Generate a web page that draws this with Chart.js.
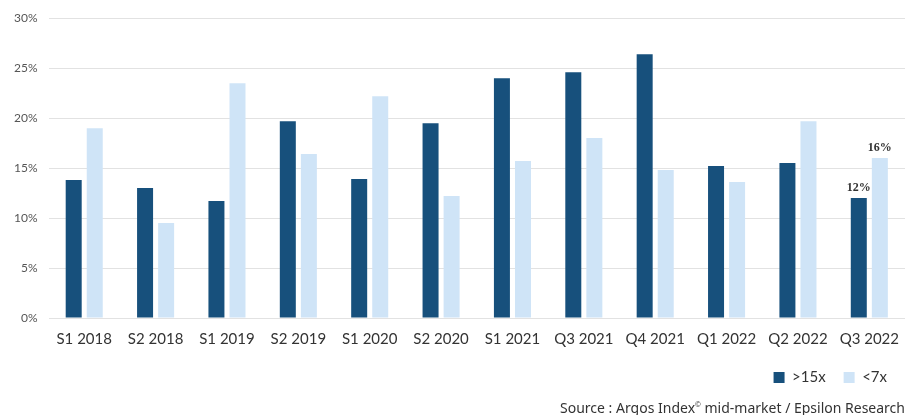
<!DOCTYPE html>
<html>
<head>
<meta charset="utf-8">
<script src="https://cdn.jsdelivr.net/npm/chart.js@4.4.0/dist/chart.umd.min.js"></script>
<style>
  body { margin: 0; background: #fff; }
  #wrap { position: relative; width: 909px; height: 415px; }
  #source { position: absolute; right: 4px; top: 398px; font: 14px "Noto Sans", sans-serif; color: #333; white-space: nowrap; }
</style>
</head>
<body>
<div id="wrap">
  <canvas id="myChart" width="909" height="415"></canvas>
  <div id="source">Source : Argos Index<sup style="font-size:7px">©</sup> mid-market / Epsilon Research</div>
</div>
<script>
const periods = ['S1 2018', 'S2 2018', 'S1 2019', 'S2 2019', 'S1 2020', 'S2 2020', 'S1 2021', 'Q3 2021', 'Q4 2021', 'Q1 2022', 'Q2 2022', 'Q3 2022'];
const above15x = [13.8, 13.0, 11.7, 19.7, 13.9, 19.5, 24.0, 24.6, 26.4, 15.2, 15.5, 12.0];
const below7x = [19.0, 9.5, 23.5, 16.4, 22.2, 12.2, 15.7, 18.0, 14.8, 13.6, 19.7, 16.0];
const yTicks = [0, 5, 10, 15, 20, 25, 30];

const FONT = '"Lato", sans-serif';

// étiquettes seulement sur la dernière période
const lastLabels = {
  id: 'lastLabels',
  afterDatasetsDraw(chart) {
    const ctx = chart.ctx;
    const last = periods.length - 1;
    ctx.save();
    ctx.font = 'bold 12px "Liberation Serif", serif';
    ctx.fillStyle = '#333';
    ctx.textAlign = 'center';
    ctx.textBaseline = 'bottom';
    chart.data.datasets.forEach((ds, i) => {
      const bar = chart.getDatasetMeta(i).data[last];
      ctx.fillText(Math.round(ds.data[last]) + '%', bar.x, bar.y - 4);
    });
    ctx.restore();
  }
};

new Chart(document.getElementById('myChart'), {
  type: 'bar',
  data: {
    labels: periods,
    datasets: [
      { label: '>15x', data: above15x, backgroundColor: '#17507c', borderWidth: 0 },
      { label: '<7x', data: below7x, backgroundColor: '#cfe4f7', borderWidth: 0 }
    ]
  },
  options: {
    responsive: false,
    animation: false,
    categoryPercentage: 0.59,
    barPercentage: 0.76,
    layout: { padding: { top: 14, right: 4, bottom: 20, left: 3 } },
    plugins: {
      tooltip: { enabled: false },
      legend: {
        position: 'bottom',
        align: 'end',
        labels: {
          boxWidth: 11,
          boxHeight: 11,
          padding: 18,
          color: '#333',
          font: { family: FONT, size: 15 }
        }
      }
    },
    scales: {
      x: {
        grid: { display: false },
        border: { display: false },
        ticks: { color: '#333', font: { family: FONT, size: 15 }, padding: 4, maxRotation: 0 }
      },
      y: {
        min: 0,
        max: 30,
        afterBuildTicks: (axis) => { axis.ticks = yTicks.map(v => ({ value: v })); },
        grid: { color: '#e2e2e2', drawTicks: false },
        border: { display: false },
        ticks: { color: '#555', font: { family: FONT, size: 12 }, padding: 11, callback: v => v + '%' }
      }
    }
  },
  plugins: [lastLabels]
});
</script>
</body>
</html>
